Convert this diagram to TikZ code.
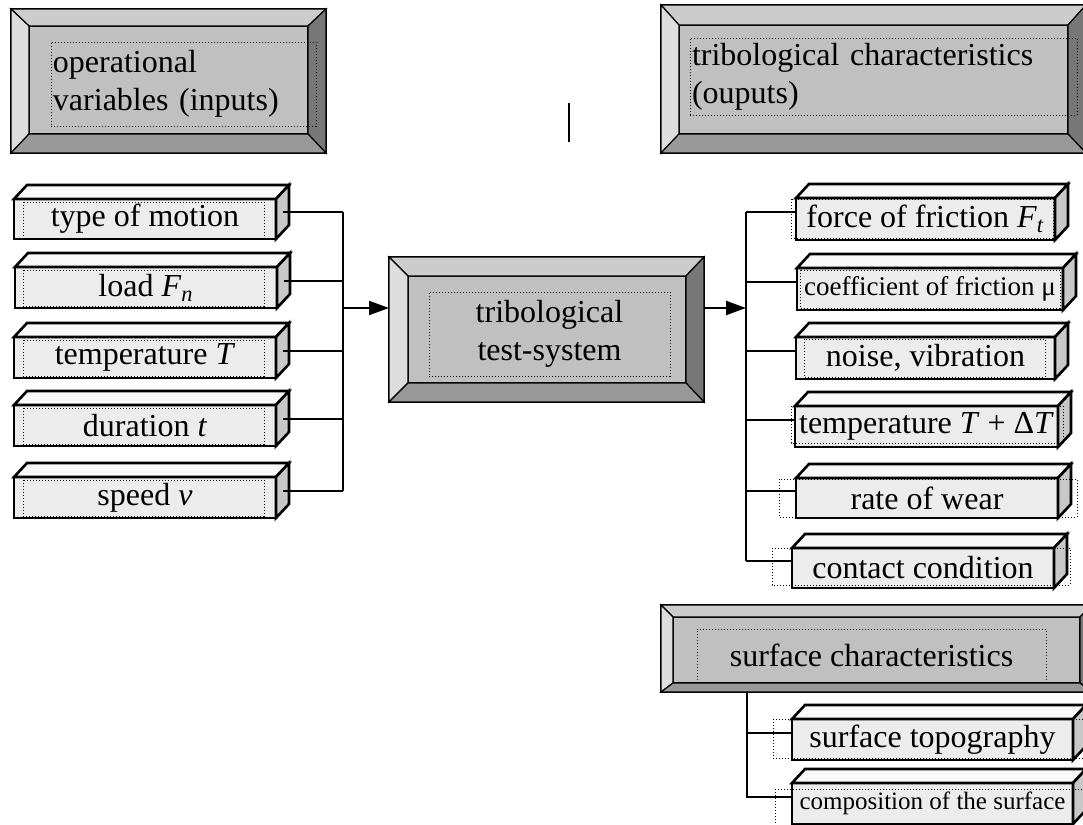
\documentclass[tikz,border=0pt]{standalone}
\usepackage{fontspec}
\setmainfont{Liberation Serif}
\usepackage{tikz}
\usetikzlibrary{arrows.meta}
\usetikzlibrary{calc}
\usepackage{xcolor}

\definecolor{bevtop}{HTML}{CCCCCC}
\definecolor{bevleft}{HTML}{DDDDDD}
\definecolor{bevright}{HTML}{777777}
\definecolor{bevbottom}{HTML}{999999}
\definecolor{bevface}{HTML}{C0C0C0}
\definecolor{barfront}{HTML}{ECECEC}
\definecolor{bartop}{HTML}{F9F9F9}
\definecolor{barside}{HTML}{C8C8C8}

\tikzset{
  panel/.style={draw, fill=bevface, line width=0.6pt, inner sep=0pt, outer sep=0pt, anchor=north west},
  textbox/.style={draw, densely dotted, line width=0.5pt, inner sep=1pt, outer sep=0pt, anchor=north west, font=\fontsize{16}{19}\selectfont},
  bar/.style={draw, line width=1.3pt, fill=barfront, inner sep=0pt, outer sep=0pt, anchor=north west, font=\fontsize{16}{18}\selectfont},
  textframe/.style={densely dotted, line width=0.5pt},
  link/.style={line width=1pt},
  feed/.style={line width=1pt, -{Triangle[length=10pt,width=7pt]}},
}

% bevelled frame between an outer and an inner node
\newcommand\bevel[2]{%
  \filldraw[fill=bevtop, line width=0.6pt] (#1.north west) -- (#1.north east) -- (#2.north east) -- (#2.north west) -- cycle;
  \filldraw[fill=bevleft, line width=0.6pt] (#1.north west) -- (#2.north west) -- (#2.south west) -- (#1.south west) -- cycle;
  \filldraw[fill=bevright, line width=0.6pt] (#1.north east) -- (#1.south east) -- (#2.south east) -- (#2.north east) -- cycle;
  \filldraw[fill=bevbottom, line width=0.6pt] (#1.south west) -- (#1.south east) -- (#2.south east) -- (#2.south west) -- cycle;
}

% top and side face of a bar
\newcommand\barsides[1]{%
  \filldraw[fill=bartop, line width=1.3pt] (#1.north west) -- ++(13,-14) -- ($(#1.north east)+(13,-14)$) -- (#1.north east) -- cycle;
  \filldraw[fill=barside, line width=1.3pt] (#1.north east) -- ++(13,-14) -- ($(#1.south east)+(13,-14)$) -- (#1.south east) -- cycle;
  \coordinate (#1-s) at ($(#1.east)+(6.5,-7)$);
  \coordinate (#1-w) at ($(#1.west)+(0,-7)$);
}

\begin{document}
\begin{tikzpicture}[x=0.5pt, y=-0.5pt]

			\useasboundingbox (0,0) rectangle (1083,825);
			\clip (0,0) rectangle (1083,825);

			% headers
			\node[panel, minimum width=157.5pt, minimum height=72pt] (inp) at (11,9) {};
			\node[panel, minimum width=139.5pt, minimum height=54pt] (inpface) at (29,26) {};
			\bevel{inp}{inpface}
			\node[textbox, minimum width=132.5pt, minimum height=42pt, text width=130.5pt, align=left] (inptext) at (51,42) {operational\\variables (inputs)};

			\node[panel, minimum width=212.5pt, minimum height=74pt] (outp) at (661,5) {};
			\node[panel, minimum width=194.5pt, minimum height=54.5pt] (outpface) at (679,25) {};
			\bevel{outp}{outpface}
			\node[textbox, minimum width=193.5pt, minimum height=38.5pt, text width=191.5pt, align=left] (outptext) at (690,38) {tribological characteristics\\(ouputs)};

			\node[panel, minimum width=215.5pt, minimum height=43.5pt] (surf) at (661,605) {};
			\node[panel, minimum width=203.5pt, minimum height=33pt] (surfface) at (673,617) {};
			\bevel{surf}{surfface}
			\node[textbox, minimum width=174.5pt, minimum height=26.5pt] (surftext) at (697,629) {surface characteristics};

			% test system
			\node[panel, minimum width=157.5pt, minimum height=72.5pt] (sys) at (389,257) {};
			\node[panel, minimum width=139pt, minimum height=53.5pt] (sysface) at (408,276) {};
			\bevel{sys}{sysface}
			\node[textbox, minimum width=120.5pt, minimum height=42pt, align=center] (systext) at (429,292) {tribological\\test-system};

			% inputs
			\node[bar, minimum width=131pt, minimum height=20pt] (mot) at (14,199) {type of motion};
			\node[bar, minimum width=131pt, minimum height=20.5pt] (load) at (15,267) {load \textit{F}\textsubscript{\textit{n}}};
			\node[bar, minimum width=131pt, minimum height=20.5pt] (temp) at (14,337) {temperature \textit{T}};
			\node[bar, minimum width=131pt, minimum height=20.5pt] (dur) at (14,405) {duration \textit{t}};
			\node[bar, minimum width=131pt, minimum height=20.5pt] (speed) at (14,477) {speed \textit{v}};

			% outputs
			\node[bar, minimum width=129.5pt, minimum height=21pt] (fric) at (796,198) {force of friction \textit{F}\textsubscript{\textit{t}}};
			\node[bar, minimum width=133pt, minimum height=21pt, font=\fontsize{13.5}{15}\selectfont] (coef) at (797,268) {coefficient of friction μ};
			\node[bar, minimum width=129.5pt, minimum height=21pt] (noise) at (796,337) {noise, vibration};
			\node[bar, minimum width=131.5pt, minimum height=20.5pt] (tout) at (795,406) {temperature \textit{T} + Δ\textit{T}};
			\node[bar, minimum width=131pt, minimum height=20pt] (wear) at (796,478) {rate of wear};
			\node[bar, minimum width=131pt, minimum height=20pt] (contact) at (792,548) {contact condition};

			% surface
			\node[bar, minimum width=140.5pt, minimum height=20.5pt] (topo) at (792,719) {surface topography};
			\node[bar, minimum width=140.5pt, minimum height=20.5pt, font=\fontsize{12.5}{15}\selectfont] (comp) at (792,783) {composition of the surface};

			\foreach \n in {mot,load,temp,dur,speed,fric,coef,noise,tout,wear,contact,topo,comp}
				{\barsides{\n}}

			% text frames
			\foreach \t in {199,267,337,405,477}
				\draw[textframe] (23,\t+3) rectangle (264,\t+39);
			\draw[textframe] (791,199) rectangle (1053,238);
			\draw[textframe] (800,270) rectangle (1060,308);
			\draw[textframe] (804,339) rectangle (1045,377);
			\draw[textframe] (791,406) rectangle (1063,443);
			\draw[textframe] (779,479) rectangle (1077,517);
			\draw[textframe] (772,548) rectangle (1070,585);
			\draw[textframe] (773,719) rectangle (1090,758);
			\draw[textframe] (775,789) rectangle (1090,830);

			% connectors
			\coordinate (inbus) at (343,308);
			\coordinate (outbus) at (746,308);
			\coordinate (surfbus) at (747,700);
			\foreach \n in {mot,load,temp,dur,speed}
				\draw[link] (\n-s) -- (\n-s -| inbus);
			\draw[link] (mot-s -| inbus) -- (speed-s -| inbus);
			\draw[feed] (inbus) -- (inbus -| sys.west);
			\draw[feed] (outbus -| sys.east) -- (outbus);
			\draw[link] (fric-w -| outbus) -- (contact-w -| outbus);
			\foreach \n in {fric,coef,noise,tout,wear,contact}
				\draw[link] (\n-w -| outbus) -- (\n-w);
			\draw[link] (surf.south -| surfbus) |- (topo-w);
			\draw[link] (surf.south -| surfbus) |- (comp-w);

			% cursor
			\draw[line width=1pt] (569,103) -- (569,142);

		\end{tikzpicture}
\end{document}
